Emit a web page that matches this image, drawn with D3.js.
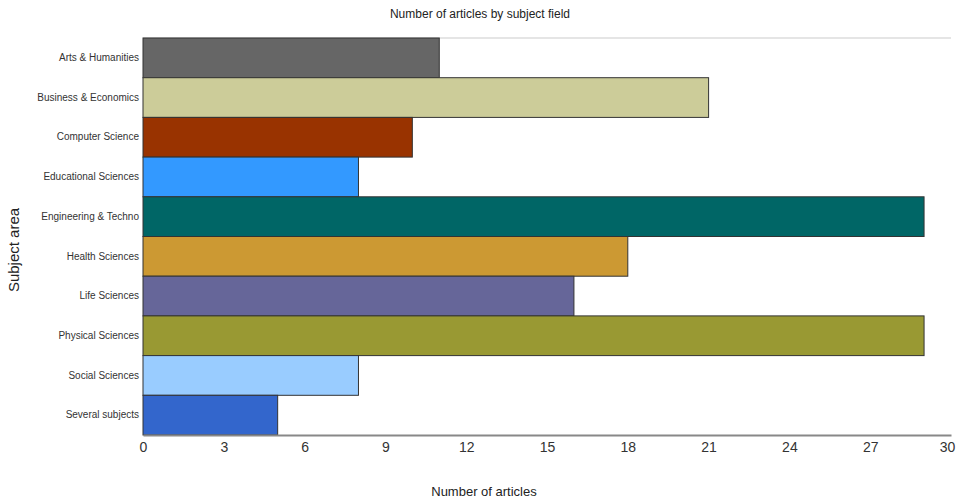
<!DOCTYPE html>
<html>
<head>
<meta charset="utf-8">
<script src="https://cdn.jsdelivr.net/npm/d3@7"></script>
<style>
  html, body { margin: 0; padding: 0; background: #fff; }
  svg { display: block; font-family: Arial, "Liberation Sans", sans-serif; }
</style>
</head>
<body>
<svg id="chart" width="962" height="500"></svg>
<script>
const categories = [
  "Arts & Humanities",
  "Business & Economics",
  "Computer Science",
  "Educational Sciences",
  "Engineering & Techno",
  "Health Sciences",
  "Life Sciences",
  "Physical Sciences",
  "Social Sciences",
  "Several subjects"
];
const articleCounts = [11, 21, 10, 8, 29, 18, 16, 29, 8, 5];
const barColors = [
  "#666666", "#cccc99", "#993300", "#3399ff", "#006666",
  "#cc9933", "#666699", "#999933", "#99ccff", "#3366cc"
];
const xTicks = [0, 3, 6, 9, 12, 15, 18, 21, 24, 27, 30];

const svg = d3.select("#chart");
const margin = { top: 38, right: 11, bottom: 65, left: 143 };
const width = 962 - margin.left - margin.right;
const height = 500 - margin.top - margin.bottom;

const x = d3.scaleLinear().domain([0, 30]).range([0, width]);
const y = d3.scaleBand().domain(categories).range([0, height]).padding(0);

const g = svg.append("g").attr("transform", `translate(${margin.left},${margin.top})`);

// top frame line
g.append("line")
  .attr("x1", 0).attr("x2", width)
  .attr("y1", 0).attr("y2", 0)
  .attr("stroke", "#dddddd").attr("stroke-width", 1.5);

// bars
g.selectAll("rect.bar")
  .data(categories)
  .join("rect")
  .attr("class", "bar")
  .attr("x", x(0))
  .attr("y", d => y(d))
  .attr("width", (d, i) => x(articleCounts[i]) - x(0))
  .attr("height", y.bandwidth())
  .attr("fill", (d, i) => barColors[i])
  .attr("stroke", "#333333")
  .attr("stroke-width", 1);

// category labels
const yAxis = g.append("g")
  .call(d3.axisLeft(y).tickSize(0).tickPadding(4));
yAxis.select(".domain").remove();
yAxis.selectAll("text")
  .attr("font-size", 10)
  .attr("fill", "#333333")
  .attr("font-family", "Arial, 'Liberation Sans', sans-serif");

// value axis
const xAxis = g.append("g")
  .attr("transform", `translate(0,${height})`)
  .call(d3.axisBottom(x).tickValues(xTicks).tickSize(0).tickPadding(7));
xAxis.select(".domain").attr("stroke", "#888888").attr("stroke-width", 2);
xAxis.selectAll("text")
  .attr("font-size", 14)
  .attr("fill", "#333333")
  .attr("font-family", "Arial, 'Liberation Sans', sans-serif");
xAxis.selectAll("text").filter(d => d === 30).attr("dx", -4);

// title
svg.append("text")
  .attr("x", 480).attr("y", 18)
  .attr("text-anchor", "middle")
  .attr("font-size", 12)
  .attr("fill", "#222222")
  .text("Number of articles by subject field");

// axis titles
svg.append("text")
  .attr("x", 484).attr("y", 496)
  .attr("text-anchor", "middle")
  .attr("font-size", 13)
  .attr("fill", "#222222")
  .text("Number of articles");

svg.append("text")
  .attr("transform", "translate(19,250) rotate(-90)")
  .attr("text-anchor", "middle")
  .attr("font-size", 15)
  .attr("fill", "#222222")
  .text("Subject area");
</script>
</body>
</html>
